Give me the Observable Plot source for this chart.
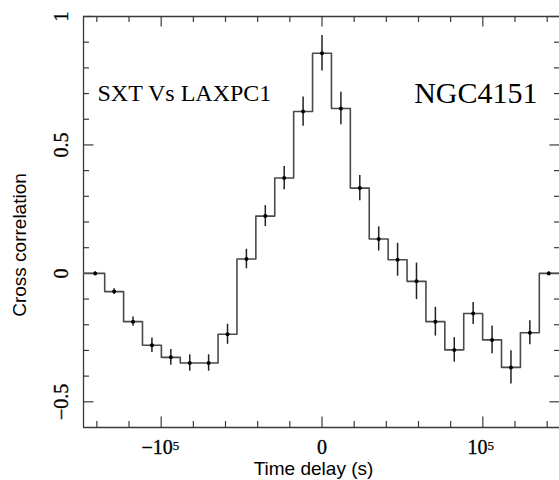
<!DOCTYPE html>
<html><head><meta charset="utf-8">
<script src="https://cdn.jsdelivr.net/npm/d3@7"></script>
<script src="https://cdn.jsdelivr.net/npm/@observablehq/plot@0.6"></script>
<style>body{margin:0;background:#fff} svg{display:block}</style>
</head><body><div id="chart"></div>
<script>
// Time delay (s) of each cross-correlation bin centre
const lags = [-141000, -129250, -117500, -105750, -94000, -82250, -70500, -58750, -47000, -35250, -23500, -11750, 0,
              11750, 23500, 35250, 47000, 58750, 70500, 82250, 94000, 105750, 117500, 129250, 141000];
// Cross-correlation values
const cc = [0.000, -0.071, -0.188, -0.280, -0.327, -0.349, -0.349, -0.237, 0.056, 0.223, 0.371, 0.630, 0.857,
            0.642, 0.332, 0.134, 0.053, -0.031, -0.188, -0.298, -0.156, -0.259, -0.366, -0.231, 0.000];
// 1-sigma errors
const ccErr = [0.006, 0.011, 0.018, 0.028, 0.031, 0.032, 0.032, 0.039, 0.038, 0.041, 0.045, 0.057, 0.069,
               0.063, 0.049, 0.047, 0.064, 0.071, 0.056, 0.048, 0.043, 0.054, 0.065, 0.047, 0.006];

const xDomain = [-148300, 148300];
const yDomain = [-0.6, 1];
const xMajorTicks = [-100000, 0, 100000];
const xMajorBase = ["\u221210", "0", "10"];
const xMajorExp = ["5", "", "5"];
const xMinorTicks = [-140000, -120000, -80000, -60000, -40000, -20000, 20000, 40000, 60000, 80000, 120000, 140000];
const yMajorTicks = [-0.5, 0, 0.5, 1];
const yMajorLabels = ["\u22120.5", "0", "0.5", "1"];
const yMinorTicks = [-0.4, -0.3, -0.2, -0.1, 0.1, 0.2, 0.3, 0.4, 0.6, 0.7, 0.8, 0.9];
const annotations = ["SXT Vs LAXPC1", "NGC4151"];
const xLabel = "Time delay (s)";
const yLabel = "Cross correlation";

const points = lags.map((x, i) => ({x, y: cc[i], e: ccErr[i]}));
// histogram outline: bin edges halfway between centres, outer bins extended to the frame
const edges = lags.map((x, i) => ({x: i === 0 ? xDomain[0] : (lags[i - 1] + x) / 2, y: cc[i]}));
edges.push({x: xDomain[1], y: cc[cc.length - 1]});
const xLabels = xMajorTicks.map((x, i) => ({x, base: xMajorBase[i], exp: xMajorExp[i]}));

const W = 559, H = 480, mL = 83, mR = -1, mT = 16, mB = 53;
const fw = W - mL - mR, fh = H - mT - mB;
const majLen = 10.5, minLen = 6;
const axisColor = "#3a3a3a";
const serif = "'Liberation Serif', 'DejaVu Serif', serif";
const sans = "'Liberation Sans', Arial, sans-serif";
const tickTxt = {fontFamily: serif, fontSize: 20, fill: "#000", stroke: "#000", strokeWidth: 0.35};

const chart = Plot.plot({
  width: W, height: H,
  marginLeft: mL, marginRight: mR, marginTop: mT, marginBottom: mB,
  style: {background: "#fff", color: "#000"},
  x: {domain: xDomain, axis: null},
  y: {domain: yDomain, axis: null},
  marks: [
    // frame: left, top, bottom (right side falls outside the picture)
    Plot.ruleX([xDomain[0]], {stroke: axisColor, strokeWidth: 1.3}),
    Plot.ruleY(yDomain, {stroke: axisColor, strokeWidth: 1.3}),
    // x ticks (bottom & top, inward)
    Plot.ruleX(xMajorTicks, {x: d => d, insetTop: fh - majLen, stroke: axisColor, strokeWidth: 1.2}),
    Plot.ruleX(xMajorTicks, {x: d => d, insetBottom: fh - majLen, stroke: axisColor, strokeWidth: 1.2}),
    Plot.ruleX(xMinorTicks, {x: d => d, insetTop: fh - minLen, stroke: axisColor, strokeWidth: 1.2}),
    Plot.ruleX(xMinorTicks, {x: d => d, insetBottom: fh - minLen, stroke: axisColor, strokeWidth: 1.2}),
    // y ticks (left & right, inward)
    Plot.ruleY(yMajorTicks, {y: d => d, insetRight: fw - majLen, stroke: axisColor, strokeWidth: 1.2}),
    Plot.ruleY(yMajorTicks, {y: d => d, insetLeft: fw - majLen, stroke: axisColor, strokeWidth: 1.2}),
    Plot.ruleY(yMinorTicks, {y: d => d, insetRight: fw - minLen, stroke: axisColor, strokeWidth: 1.2}),
    Plot.ruleY(yMinorTicks, {y: d => d, insetLeft: fw - minLen, stroke: axisColor, strokeWidth: 1.2}),
    // x tick labels: zero, negative power, positive power (base + superscript)
    Plot.text(xLabels, {filter: d => d.x === 0, x: "x", frameAnchor: "bottom", dy: 12, lineAnchor: "top",
      text: "base", ...tickTxt}),
    Plot.text(xLabels, {filter: d => d.x < 0, x: "x", frameAnchor: "bottom", dx: 11.5, dy: 12, lineAnchor: "top",
      textAnchor: "end", text: "base", ...tickTxt}),
    Plot.text(xLabels, {filter: d => d.x > 0, x: "x", frameAnchor: "bottom", dx: 4.8, dy: 12, lineAnchor: "top",
      textAnchor: "end", text: "base", ...tickTxt}),
    Plot.text(xLabels, {filter: d => d.x < 0, x: "x", frameAnchor: "bottom", dx: 11.5, dy: 13, lineAnchor: "top",
      textAnchor: "start", text: "exp", ...tickTxt, fontSize: 13, strokeWidth: 0.25}),
    Plot.text(xLabels, {filter: d => d.x > 0, x: "x", frameAnchor: "bottom", dx: 4.8, dy: 13, lineAnchor: "top",
      textAnchor: "start", text: "exp", ...tickTxt, fontSize: 13, strokeWidth: 0.25}),
    // y tick labels (rotated)
    Plot.text(yMajorTicks, {y: d => d, frameAnchor: "left", dx: -21.5, rotate: -90,
      textAnchor: "middle", lineAnchor: "middle", text: (d, i) => yMajorLabels[i], ...tickTxt}),
    // axis titles
    Plot.text([xLabel], {frameAnchor: "bottom", dx: -8.5, dy: 41, lineAnchor: "middle", textAnchor: "middle",
      text: d => d, fontFamily: sans, fontSize: 19, fill: "#000"}),
    Plot.text([yLabel], {frameAnchor: "left", dx: -64, dy: 23, rotate: -90, lineAnchor: "middle", textAnchor: "middle",
      text: d => d, fontFamily: sans, fontSize: 19, fill: "#000"}),
    // histogram
    Plot.line(edges, {x: "x", y: "y", curve: "step-after", stroke: "#4a4a4a", strokeWidth: 1.6, clip: true}),
    // error bars
    Plot.ruleX(points, {x: "x", y1: d => d.y - d.e, y2: d => d.y + d.e, stroke: "#222", strokeWidth: 1.5}),
    Plot.dot(points, {x: "x", y: "y", r: 2, fill: "#000", stroke: null}),
    // annotations
    Plot.text([annotations[0]], {frameAnchor: "top-left", dx: 14, dy: 84, textAnchor: "start", lineAnchor: "bottom",
      text: d => d, fontFamily: serif, fontSize: 24, fill: "#000"}),
    Plot.text([annotations[1]], {frameAnchor: "top-right", dx: -23, dy: 86, textAnchor: "end", lineAnchor: "bottom",
      text: d => d, fontFamily: serif, fontSize: 30, fill: "#000"})
  ]
});
document.getElementById("chart").append(chart);
</script>
</body></html>
